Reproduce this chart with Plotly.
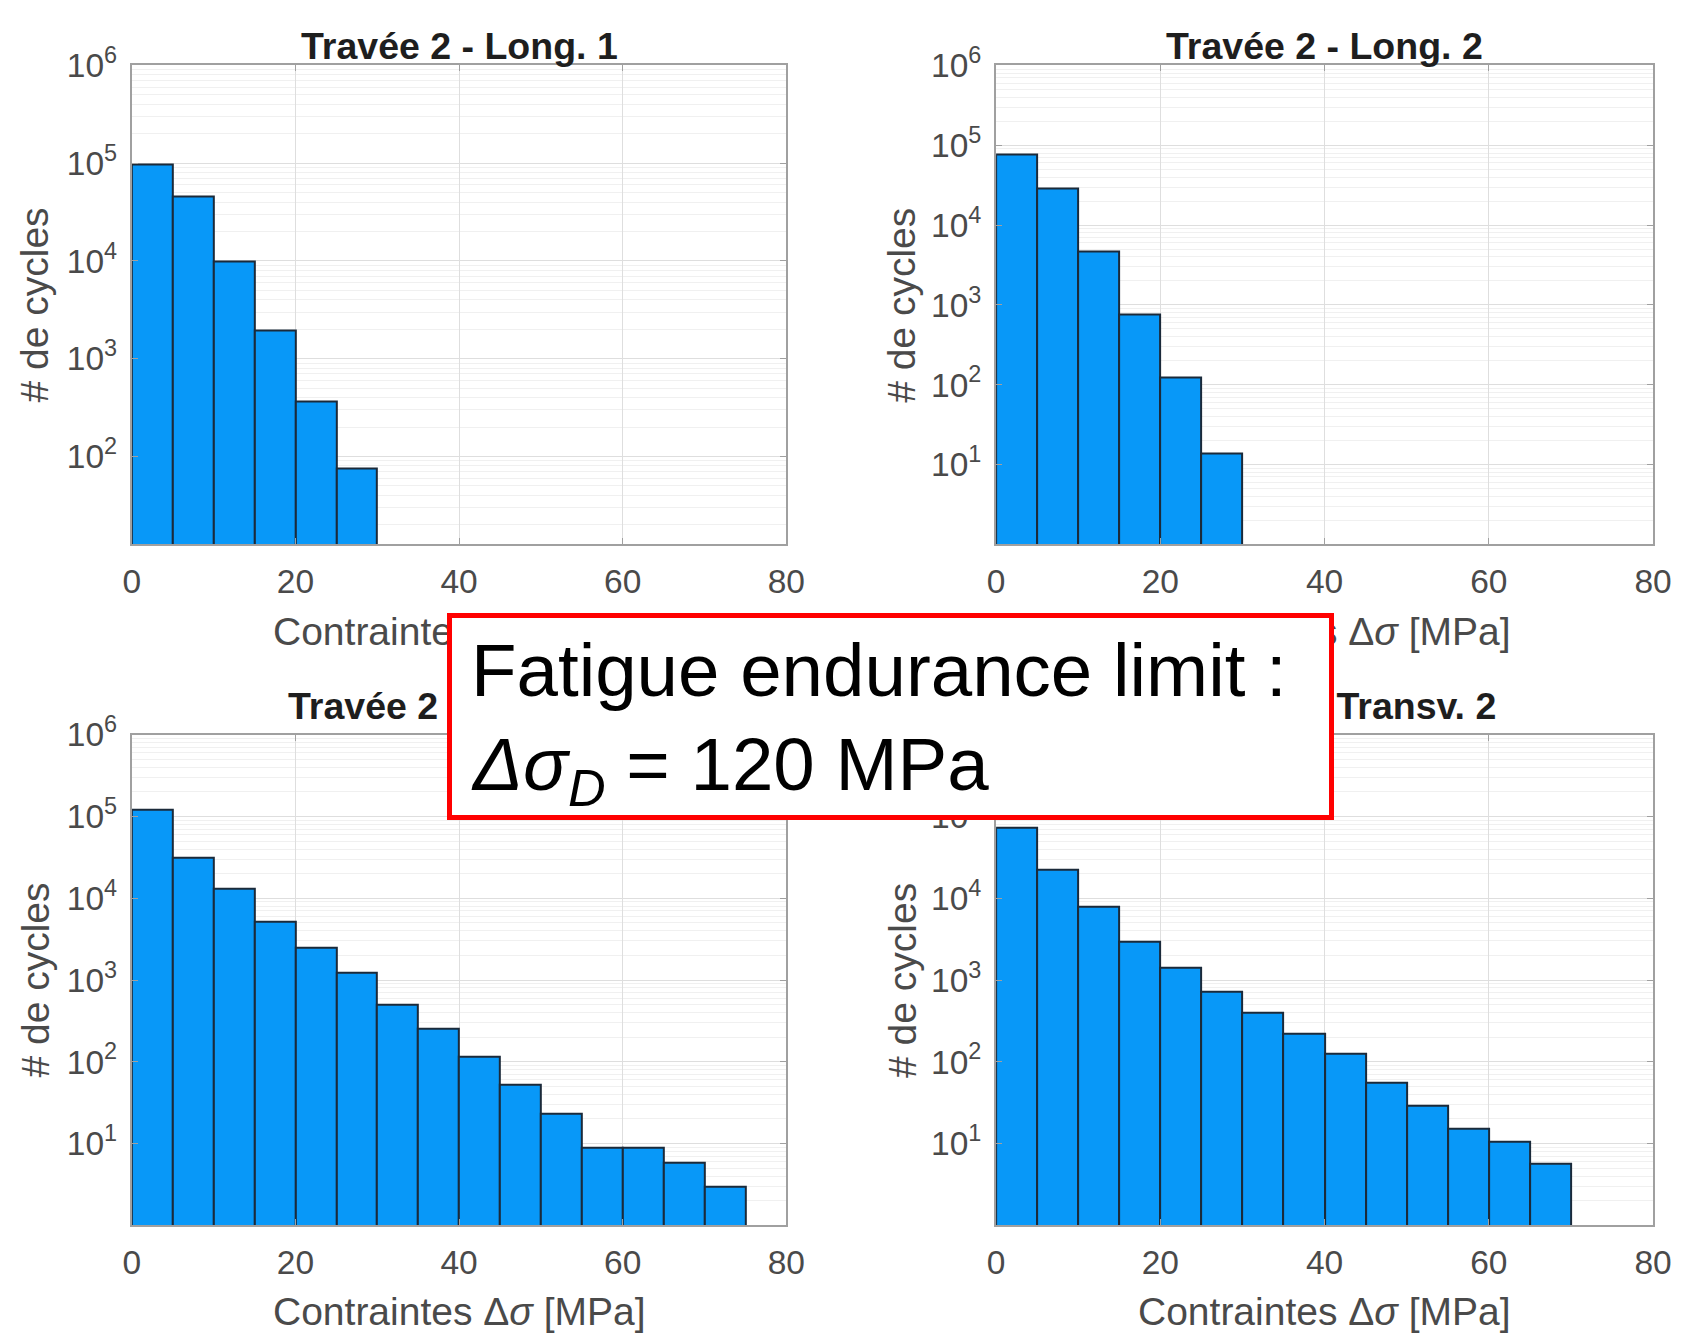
import numpy as np
import plotly.graph_objects as go

# ---------------- data ----------------
bin_width = 5
panel_titles = ["Travée 2 - Long. 1", "Travée 2 - Long. 2",
                "Travée 2 - Transv. 1", "Travée 2 - Transv. 2"]
counts_long1 = [97000, 45700, 10000, 1930, 368, 76]
counts_long2 = [76700, 28900, 4680, 759, 123, 13.9]
counts_transv1 = [122000, 31200, 13000, 5100, 2500, 1230, 499, 255, 114,
                  51.8, 22.9, 8.8, 8.8, 5.75, 2.98]
counts_transv2 = [72000, 22600, 7770, 2900, 1410, 714, 393, 221, 124,
                  55.6, 29.4, 15.2, 10.6, 5.7]
x_tick_vals = [0, 20, 40, 60, 80]
y_tick_exps = [1, 2, 3, 4, 5, 6]
y_tick_text = ["10<sup>1</sup>", "10<sup>2</sup>", "10<sup>3</sup>",
               "10<sup>4</sup>", "10<sup>5</sup>", "10<sup>6</sup>"]
x_label = "Contraintes Δ<i>σ</i> [MPa]"
y_label = "# de cycles"
note_line1 = "Fatigue endurance limit :"
note_line2 = "<i>Δσ</i><sub><i>D</i></sub> = 120 MPa"

all_counts = [counts_long1, counts_long2, counts_transv1, counts_transv2]
y_log_ranges = [[1.1, 6], [0, 6], [0, 6], [0, 6]]

# ---------------- layout geometry (figure pixels) ----------------
W, H = 1684, 1334
col_px = [(124.9, 790.5), (1003.8, 1671.9)]
row_px = [(43.2, 530.6), (724.2, 1223.4)]
title_y = [None, 694.5]          # None -> pinned to top edge
xlabel_y = [619.5, 1311.0]
ylabel_x = [26.0, 908.0]

BAR_COLOR = "#0898f8"
EDGE_COLOR = "#1b2a3a"
FONT = "Liberation Sans, Arial, sans-serif"
TICK_COLOR = "#4a4a4a"
AX_COLOR = "#a0a0a0"

fig = go.Figure()
annotations = []

for i, counts in enumerate(all_counts):
    r, c = divmod(i, 2)
    sfx = "" if i == 0 else str(i + 1)
    x0, x1 = col_px[c]
    y0, y1 = row_px[r]
    xdom = [x0 / W, x1 / W]
    ydom = [1 - y1 / H, 1 - y0 / H]
    centers = bin_width * (np.arange(len(counts)) + 0.5)
    fig.add_trace(go.Bar(
        x=centers, y=counts, width=bin_width,
        marker=dict(color=BAR_COLOR, line=dict(color=EDGE_COLOR, width=2)),
        xaxis="x" + sfx, yaxis="y" + sfx, showlegend=False,
    ))
    ticks_v = [10 ** e for e in y_tick_exps]
    fig.update_layout(**{
        "xaxis" + sfx: dict(
            domain=xdom, anchor="y" + sfx, range=[0, 80],
            tickmode="array", tickvals=x_tick_vals,
            showgrid=True, gridcolor="#dedede", gridwidth=1,
            showline=True, linecolor=AX_COLOR, linewidth=2, mirror="ticks",
            ticks="inside", ticklen=6, tickcolor=AX_COLOR,
            tickfont=dict(family=FONT, size=33.5, color=TICK_COLOR),
            ticklabelstandoff=6, zeroline=False, fixedrange=True,
        ),
        "yaxis" + sfx: dict(
            domain=ydom, anchor="x" + sfx, type="log", range=y_log_ranges[i],
            tickmode="array", tickvals=ticks_v, ticktext=y_tick_text,
            showgrid=True, gridcolor="#dedede", gridwidth=1,
            minor=dict(dtick="D1", showgrid=True, gridcolor="#f0f0f0", ticks=""),
            showline=True, linecolor=AX_COLOR, linewidth=2, mirror="ticks",
            ticks="inside", ticklen=6, tickcolor=AX_COLOR,
            tickfont=dict(family=FONT, size=33.5, color=TICK_COLOR),
            ticklabelstandoff=6, zeroline=False, fixedrange=True,
        ),
    })
    xc = (x0 + x1) / 2 / W
    if title_y[r] is None:
        t_pos = dict(y=1.0, yanchor="top")
    else:
        t_pos = dict(y=1 - title_y[r] / H, yanchor="middle")
    annotations.append(dict(
        text="<b>" + panel_titles[i] + "</b>", xref="paper", yref="paper",
        x=xc, xanchor="center", showarrow=False,
        font=dict(family=FONT, size=37.5, color="#1e1e1e"), **t_pos,
    ))
    annotations.append(dict(
        text=x_label, xref="paper", yref="paper",
        x=xc, y=1 - xlabel_y[r] / H, xanchor="center", yanchor="middle",
        showarrow=False, font=dict(family=FONT, size=39, color=TICK_COLOR),
    ))
    annotations.append(dict(
        text=y_label, xref="paper", yref="paper",
        x=ylabel_x[c] / W, y=1 - (y0 + y1) / 2 / H, xanchor="center", yanchor="middle",
        textangle=-90, showarrow=False,
        font=dict(family=FONT, size=39, color=TICK_COLOR),
    ))

# note box (white box with red border, drawn above everything)
annotations.append(dict(
    text="", xref="paper", yref="paper",
    x=896.0 / W, y=1 - 705.5 / H, xanchor="center", yanchor="middle",
    showarrow=False, width=876.5, height=197.4, borderpad=0, borderwidth=5,
    bordercolor="#ff0000", bgcolor="#ffffff",
))
for line, top in [(note_line1, 616.0), (note_line2, 711.7)]:
    annotations.append(dict(
        text=line, xref="paper", yref="paper",
        x=468.5 / W, y=1 - top / H, xanchor="left", yanchor="top",
        showarrow=False, align="left", borderpad=0,
        font=dict(family=FONT, size=74.5, color="#000000"),
    ))

fig.update_layout(
    width=W, height=H, autosize=False,
    margin=dict(l=0, r=0, t=0, b=0),
    paper_bgcolor="#ffffff", plot_bgcolor="#ffffff",
    bargap=0, annotations=annotations,
)

fig.write_html("out.html")
